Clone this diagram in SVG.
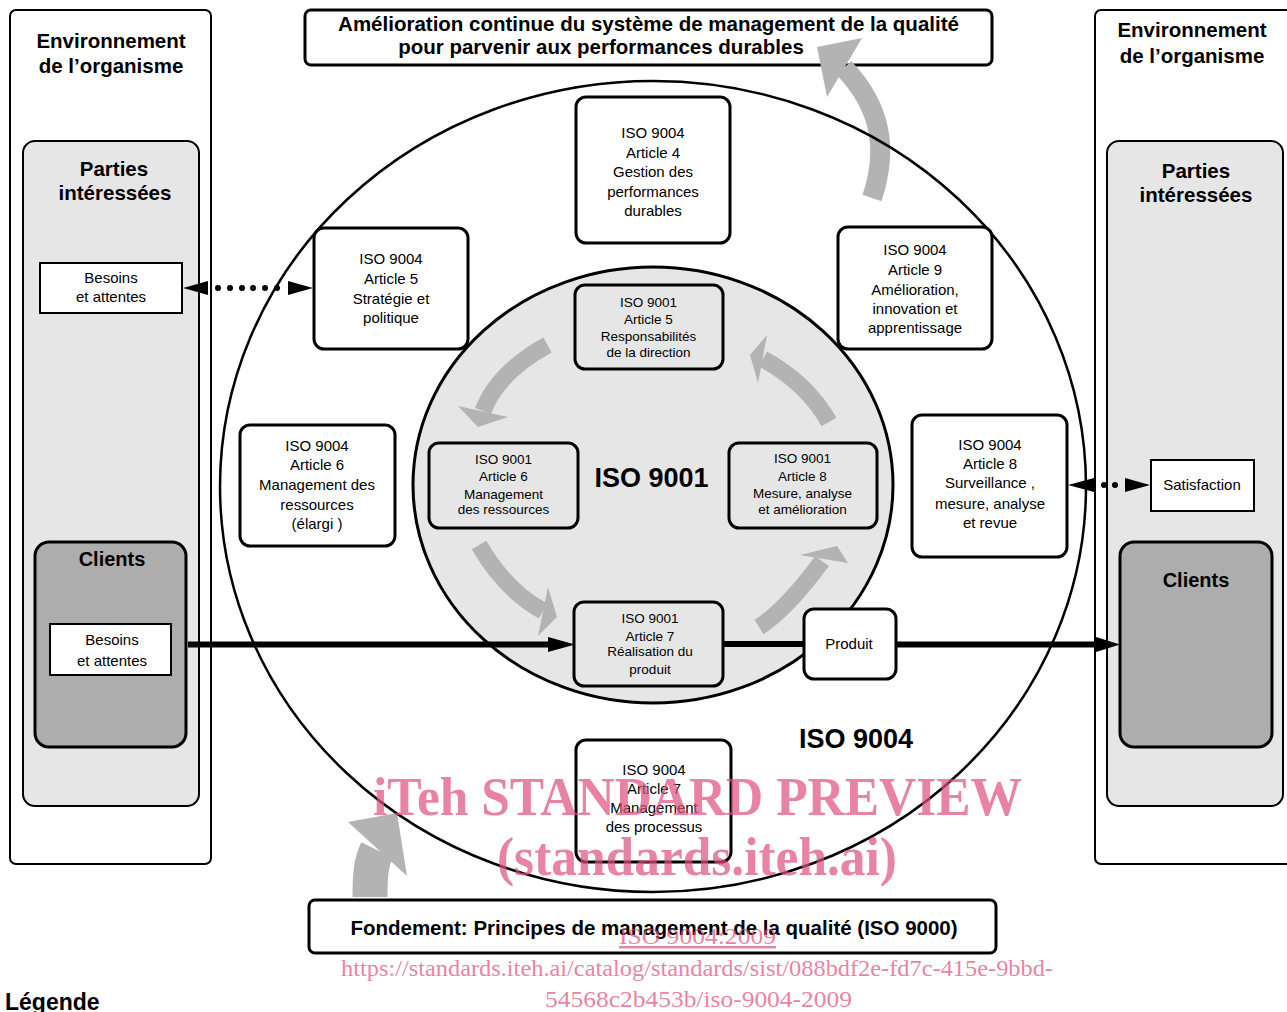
<svg xmlns="http://www.w3.org/2000/svg" width="1287" height="1012" viewBox="0 0 1287 1012">
<style>
.env{fill:#fff;stroke:#000;stroke-width:2}
.pi{fill:#e6e6e6;stroke:#000;stroke-width:2}
.cl{fill:#adadad;stroke:#000;stroke-width:3}
.sq{fill:#fff;stroke:#000;stroke-width:2}
.b4{fill:#fff;stroke:#000;stroke-width:3}
.b1{fill:#e6e6e6;stroke:#000;stroke-width:3}
.ban{fill:#fff;stroke:#000;stroke-width:3}
.t{font-family:"Liberation Sans",Arial,sans-serif;text-anchor:middle;fill:#000}
.bold{font-weight:bold}
.f15{font-size:15px}
.f13{font-size:13.5px}
.f20{font-size:20.5px}
.band{fill:none;stroke:#b3b3b3;stroke-linecap:butt}
.head{fill:#b3b3b3}
.conn{stroke:#000;stroke-width:6;fill:none}
.ah{fill:#000}
.wm{font-family:"Liberation Serif","Times New Roman",serif;fill:#e0507f;opacity:0.7}
</style>

<!-- Environment -->
<g id="env-left"><rect class="env" x="10" y="10" width="201" height="854" rx="6"/>
<text class="t bold f20" x="111" y="48">Environnement</text><text class="t bold f20" x="111" y="73">de l’organisme</text></g>
<g id="env-right"><rect class="env" x="1095" y="10" width="210" height="854" rx="6"/>
<text class="t bold f20" x="1192" y="37">Environnement</text><text class="t bold f20" x="1192" y="63">de l’organisme</text></g>

<g id="parties-left"><rect class="pi" x="23" y="141" width="176" height="665" rx="12"/>
<text class="t bold f20" x="114" y="176">Parties</text><text class="t bold f20" x="115" y="200">intéressées</text></g>
<g id="parties-right"><rect class="pi" x="1107" y="141" width="176" height="665" rx="12"/>
<text class="t bold f20" x="1196" y="178">Parties</text><text class="t bold f20" x="1196" y="202">intéressées</text></g>

<g id="besoins-pi"><rect class="sq" x="40" y="263" width="142" height="50"/>
<text class="t f15" x="111" y="283">Besoins</text><text class="t f15" x="111" y="302">et attentes</text></g>

<g id="clients-left"><rect class="cl" x="35" y="542" width="151" height="205" rx="14"/>
<text class="t bold" style="font-size:20px" x="112" y="566">Clients</text></g>
<g id="besoins-clients"><rect class="sq" x="50" y="624" width="121" height="51"/>
<text class="t f15" x="112" y="645">Besoins</text><text class="t f15" x="112" y="666">et attentes</text></g>

<g id="satisfaction"><rect class="sq" x="1151" y="460" width="103" height="51"/>
<text class="t f15" x="1202" y="490">Satisfaction</text></g>
<g id="clients-right"><rect class="cl" x="1120" y="542" width="152" height="205" rx="14"/>
<text class="t bold" style="font-size:20px" x="1196" y="587">Clients</text></g>

<!-- Banners -->
<g id="banner-top"><rect class="ban" x="305" y="10" width="687" height="55" rx="6"/>
<text class="t bold f20" x="648.5" y="31">Amélioration continue du système de management de la qualité</text>
<text class="t bold f20" x="601" y="54">pour parvenir aux performances durables</text></g>
<g id="banner-bottom"><rect class="ban" x="309" y="900" width="687" height="53" rx="6"/>
<text class="t bold f20" x="654" y="935">Fondement: Principes de management de la qualité (ISO 9000)</text></g>

<!-- Big gray arrows -->
<g id="arrow-improve">
<path class="band" stroke-width="20" d="M872,198 C888,150 882,108 844,68"/>
<polygon class="head" points="817,47 862,38 827,97"/></g>
<g id="arrow-foundation">
<path class="band" stroke-width="35" d="M370,897 C370,875 371,862 377,850"/>
<polygon class="head" points="348,822 397,813 407,876"/></g>

<!-- Outer ISO 9004 ellipse -->
<g id="iso9004-circle"><ellipse cx="653" cy="486.5" rx="433" ry="405.5" fill="none" stroke="#000" stroke-width="2.5"/>
<text class="t bold" style="font-size:27px" x="856" y="748">ISO 9004</text></g>

<!-- Inner ISO 9001 circle -->
<g id="iso9001-circle"><ellipse cx="653" cy="485" rx="240" ry="218" fill="#e6e6e6" stroke="#000" stroke-width="3"/>
<text class="t bold" style="font-size:27px" x="651.5" y="487">ISO 9001</text></g>

<g id="cycle-arrows">
<path class="band" stroke-width="17" d="M547.5,345 Q498,372 483,411"/>
<polygon class="head" points="458,406 508,417 478,427"/>
<path class="band" stroke-width="17" d="M479,545 Q505,590 543,611"/>
<polygon class="head" points="548,587 538,636 557,617"/>
<path class="band" stroke-width="17" d="M759,627 Q787,609 822,561"/>
<polygon class="head" points="800,555 848,563 837,546"/>
<path class="band" stroke-width="17" d="M829,422 Q807,383 763,359"/>
<polygon class="head" points="767,335 758,383 750,355"/>
</g>

<!-- ISO 9004 article boxes -->
<g id="n9004-a4"><rect class="b4" x="576" y="97" width="154" height="146" rx="10"/>
<text class="t f15" x="653" y="138">ISO 9004</text><text class="t f15" x="653" y="158">Article 4</text><text class="t f15" x="653" y="177">Gestion des</text><text class="t f15" x="653" y="197">performances</text><text class="t f15" x="653" y="216">durables</text></g>
<g id="n9004-a5"><rect class="b4" x="314" y="228" width="154" height="121" rx="10"/>
<text class="t f15" x="391" y="264">ISO 9004</text><text class="t f15" x="391" y="284">Article 5</text><text class="t f15" x="391" y="304">Stratégie et</text><text class="t f15" x="391" y="323">politique</text></g>
<g id="n9004-a9"><rect class="b4" x="838" y="227" width="154" height="122" rx="10"/>
<text class="t f15" x="915" y="255">ISO 9004</text><text class="t f15" x="915" y="275">Article 9</text><text class="t f15" x="915" y="295">Amélioration,</text><text class="t f15" x="915" y="314">innovation et</text><text class="t f15" x="915" y="333">apprentissage</text></g>
<g id="n9004-a6"><rect class="b4" x="240" y="425" width="155" height="121" rx="10"/>
<text class="t f15" x="317" y="451">ISO 9004</text><text class="t f15" x="317" y="470">Article 6</text><text class="t f15" x="317" y="490">Management des</text><text class="t f15" x="317" y="510">ressources</text><text class="t f15" x="317" y="529">(élargi )</text></g>
<g id="n9004-a8"><rect class="b4" x="912" y="415" width="155" height="142" rx="10"/>
<text class="t f15" x="990" y="450">ISO 9004</text><text class="t f15" x="990" y="469">Article 8</text><text class="t f15" x="990" y="488">Surveillance ,</text><text class="t f15" x="990" y="509">mesure, analyse</text><text class="t f15" x="990" y="528">et revue</text></g>
<g id="n9004-a7"><rect class="b4" x="576" y="740" width="155" height="122" rx="10"/>
<text class="t f15" x="654" y="775">ISO 9004</text><text class="t f15" x="654" y="794">Article 7</text><text class="t f15" x="654" y="813">Management</text><text class="t f15" x="654" y="832">des processus</text></g>

<!-- ISO 9001 article boxes -->
<g id="n9001-a5"><rect class="b1" x="575" y="285" width="148" height="84" rx="10"/>
<text class="t f13" x="648.5" y="307">ISO 9001</text><text class="t f13" x="648.5" y="323.5">Article 5</text><text class="t f13" x="648.5" y="341">Responsabilités</text><text class="t f13" x="648.5" y="357">de la direction</text></g>
<g id="n9001-a6"><rect class="b1" x="429" y="443" width="149" height="85" rx="10"/>
<text class="t f13" x="503.5" y="464">ISO 9001</text><text class="t f13" x="503.5" y="481">Article 6</text><text class="t f13" x="503.5" y="499">Management</text><text class="t f13" x="503.5" y="514">des ressources</text></g>
<g id="n9001-a8"><rect class="b1" x="729" y="443" width="148" height="85" rx="10"/>
<text class="t f13" x="802.5" y="463">ISO 9001</text><text class="t f13" x="802.5" y="481">Article 8</text><text class="t f13" x="802.5" y="498">Mesure, analyse</text><text class="t f13" x="802.5" y="514">et amélioration</text></g>
<g id="n9001-a7"><rect class="b1" x="574" y="602" width="149" height="84" rx="10"/>
<text class="t f13" x="650" y="623">ISO 9001</text><text class="t f13" x="650" y="641">Article 7</text><text class="t f13" x="650" y="656">Réalisation du</text><text class="t f13" x="650" y="674">produit</text></g>

<!-- Connectors -->
<g id="connectors">
<line class="conn" x1="188" y1="644.5" x2="550" y2="644.5"/>
<polygon class="ah" points="548,637 575,644.5 548,652"/>
<line class="conn" x1="723" y1="644" x2="804" y2="644"/>
<line class="conn" x1="896" y1="644.5" x2="1098" y2="644.5"/>
<polygon class="ah" points="1096,637 1120,644.5 1096,652"/>
<polygon class="ah" points="183,288 208,281 208,295"/>
<g class="ah"><circle cx="218" cy="288" r="3"/><circle cx="230" cy="288" r="3"/><circle cx="242" cy="288" r="3"/><circle cx="253" cy="288" r="3"/><circle cx="265" cy="288" r="3"/><circle cx="277" cy="288" r="3"/></g>
<polygon class="ah" points="288,281 313,288 288,295"/>
<polygon class="ah" points="1068,485 1094,478 1094,492"/>
<g class="ah"><circle cx="1104" cy="485" r="3"/><circle cx="1115" cy="485" r="3"/></g>
<polygon class="ah" points="1125,478 1150,485 1125,492"/>
</g>

<g id="produit"><rect class="b4" x="804" y="609" width="92" height="70" rx="10"/>
<text class="t f15" x="849" y="649">Produit</text></g>

<text x="5" y="1010" style="font-family:'Liberation Sans',Arial,sans-serif;font-weight:bold;font-size:23px">Légende</text>

<!-- Watermark -->
<g id="watermark">
<text class="wm" x="373" y="815" style="font-size:54px;font-weight:bold" textLength="649" lengthAdjust="spacingAndGlyphs">iTeh STANDARD PREVIEW</text>
<text class="wm" x="497" y="875" style="font-size:54px;font-weight:bold" textLength="400" lengthAdjust="spacingAndGlyphs">(standards.iteh.ai)</text>
<text class="wm" x="619" y="944" style="font-size:24px;text-decoration:underline" textLength="157" lengthAdjust="spacingAndGlyphs">ISO 9004:2009</text>
<text class="wm" x="341" y="976" style="font-size:24px" textLength="712" lengthAdjust="spacingAndGlyphs">https://standards.iteh.ai/catalog/standards/sist/088bdf2e-fd7c-415e-9bbd-</text>
<text class="wm" x="545" y="1007" style="font-size:24px" textLength="307" lengthAdjust="spacingAndGlyphs">54568c2b453b/iso-9004-2009</text>
</g>
</svg>
